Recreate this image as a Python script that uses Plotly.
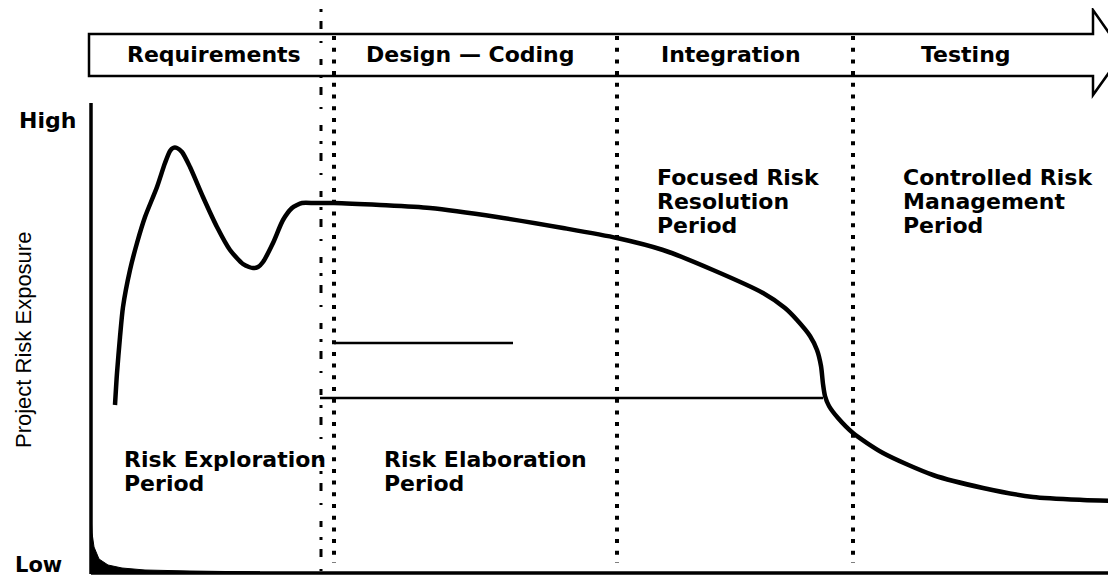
import plotly.graph_objects as go

# ---------------- data (diagram units) ----------------
phase_labels = ["Requirements", "Design \u2014 Coding", "Integration", "Testing"]
phase_centers = [214, 470, 731, 966]
phase_boundaries = [334, 617, 853]

curve_t = [115, 117, 120, 123, 130, 137, 145, 157, 165, 170, 173, 177, 182, 190, 203, 217,
           230, 243, 249, 253, 258, 263, 273, 283, 292, 297, 302, 315, 334, 380, 430, 497,
           563, 617, 663, 713, 763, 785, 797, 810, 817, 821, 823, 825, 829, 838, 853, 883,
           933, 983, 1033, 1083, 1116]
curve_exposure = [405, 373, 337, 307, 270, 243, 217, 187, 163, 151, 148, 148, 152, 167,
                  197, 227, 250, 264, 267, 268, 267, 262, 243, 220, 208, 205, 203, 203,
                  203, 205, 208, 217, 228, 238, 250, 270, 293, 308, 320, 336, 350, 366,
                  384, 396, 406, 418, 433, 453, 475, 488, 497, 500, 501]

corner_t = [91, 91, 92, 94, 99, 108, 122, 145, 190, 260, 91]
corner_exposure = [480, 515, 533, 547, 559, 565, 568, 570, 571, 572, 572]

ref_line_levels = [343, 398]
ref_line_starts = [334, 320]
ref_line_ends = [513, 823]

period_lines = [
    ("Risk Exploration", 122, 459), ("Period", 122, 483),
    ("Risk Elaboration", 382, 459), ("Period", 382, 483),
    ("Focused Risk", 655, 177), ("Resolution", 655, 201), ("Period", 655, 225),
    ("Controlled Risk", 901, 177), ("Management", 901, 201), ("Period", 901, 225),
]

y_tick_labels = ["High", "Low"]
y_tick_pos = [120, 565]
y_title = "Project Risk Exposure"

# ---------------- figure ----------------
# the page body has an 8px margin, so the figure covers page pixels 8..1116 / 8..584
PAGE_W, PAGE_H, OFF = 1116, 584, 8
BOLD = "DejaVu Sans"
fig = go.Figure()

# corner fillet at the axis origin
fig.add_trace(go.Scatter(x=corner_t, y=corner_exposure, mode="lines", fill="toself",
                         fillcolor="black", line=dict(color="black", width=1),
                         hoverinfo="skip", showlegend=False))

# main risk exposure curve
fig.add_trace(go.Scatter(x=curve_t, y=curve_exposure, mode="lines",
                         line=dict(color="black", width=4.5, shape="spline", smoothing=0.7),
                         showlegend=False))

shapes = []
# phase arrow band
shapes.append(dict(type="path", xref="x", yref="y",
                   path="M89,34 L1093,34 L1093,10 L1123,53 L1093,95 L1093,76 L89,76 Z",
                   line=dict(color="black", width=2.5), fillcolor="white", layer="below"))
# axes
shapes.append(dict(type="line", x0=91, x1=91, y0=103, y1=574,
                   line=dict(color="black", width=3.5)))
shapes.append(dict(type="line", x0=91, x1=1116, y0=573, y1=573,
                   line=dict(color="black", width=3.5)))
# dotted phase boundaries
for xb in phase_boundaries:
    shapes.append(dict(type="line", x0=xb, x1=xb, y0=36, y1=563,
                       line=dict(color="black", width=4, dash="4px,7.7px")))
# scanner artefact broken line
shapes.append(dict(type="line", x0=321, x1=321, y0=9, y1=584,
                   line=dict(color="black", width=3,
                             dash="3px,9px,8px,12px,2px,16px,6px,10px")))
# horizontal reference lines
for yl, xs, xe in zip(ref_line_levels, ref_line_starts, ref_line_ends):
    shapes.append(dict(type="line", x0=xs, x1=xe, y0=yl, y1=yl,
                       line=dict(color="black", width=2.5)))

annotations = []
for lab, xc in zip(phase_labels, phase_centers):
    annotations.append(dict(x=xc, y=54, text=lab, showarrow=False, xanchor="center",
                            yanchor="middle", font=dict(family=BOLD, size=22, color="black",
                                                        weight="bold")))
for txt, xl, yc in period_lines:
    annotations.append(dict(x=xl, y=yc, text=txt, showarrow=False, xanchor="left",
                            yanchor="middle", font=dict(family=BOLD, size=22, color="black",
                                                        weight="bold")))
annotations.append(dict(x=78, y=y_tick_pos[0], text=y_tick_labels[0], showarrow=False,
                        xanchor="right", yanchor="middle",
                        font=dict(family=BOLD, size=22, color="black", weight="bold")))
annotations.append(dict(x=13, y=y_tick_pos[1], text=y_tick_labels[1], showarrow=False,
                        xanchor="left", yanchor="middle",
                        font=dict(family=BOLD, size=21, color="black", weight="bold")))
annotations.append(dict(x=23, y=340, text=y_title, showarrow=False, textangle=-90,
                        xanchor="center", yanchor="middle",
                        font=dict(family="Liberation Sans", size=22, color="black")))

fig.update_layout(
    width=PAGE_W - OFF, height=PAGE_H - OFF, margin=dict(l=0, r=0, t=0, b=0),
    paper_bgcolor="white", plot_bgcolor="white",
    xaxis=dict(range=[OFF, PAGE_W], visible=False, fixedrange=True),
    yaxis=dict(range=[PAGE_H, OFF], visible=False, fixedrange=True),
    shapes=shapes, annotations=annotations, showlegend=False,
)

fig.write_html("out.html")
